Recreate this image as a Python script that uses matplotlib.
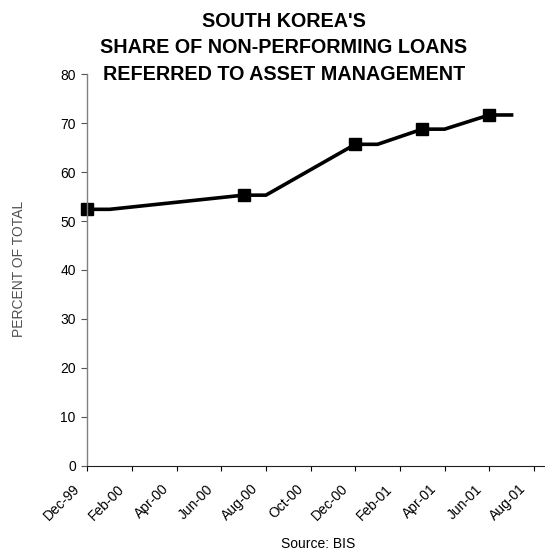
import matplotlib
matplotlib.use("Agg")
import matplotlib.pyplot as plt
import matplotlib.transforms as mtransforms

plt.rcParams['font.family'] = ['Liberation Sans', 'DejaVu Sans']

# month index: 0 = Dec-99
months = [0, 1, 7, 8, 12, 13, 15, 16, 18, 19]
share = [52.4, 52.4, 55.3, 55.3, 65.7, 65.7, 68.8, 68.8, 71.7, 71.7]
marker_idx = [0, 2, 4, 6, 8]
tick_labels = ["Dec-99", "Feb-00", "Apr-00", "Jun-00", "Aug-00", "Oct-00",
               "Dec-00", "Feb-01", "Apr-01", "Jun-01", "Aug-01"]
y_ticks = [0, 10, 20, 30, 40, 50, 60, 70, 80]
title_lines = ["SOUTH KOREA'S", "SHARE OF NON-PERFORMING LOANS",
               "REFERRED TO ASSET MANAGEMENT"]

W, H = 545, 554
fig = plt.figure(figsize=(W / 100, H / 100), dpi=100)
ax = fig.add_axes([87.3 / W, 1 - 465.5 / H, 1 - 87.3 / W, (465.5 - 74.4) / H])

ax.plot(months, share, color="black", linewidth=2.6, marker="s",
        markersize=9, markevery=marker_idx, markerfacecolor="black",
        markeredgecolor="black", solid_joinstyle="miter", clip_on=False)

ax.set_xlim(0, (W - 87.3) / 22.33)
ax.set_ylim(0, 80)
ax.set_yticks(y_ticks)
ax.set_xticks(list(range(0, 2 * len(tick_labels), 2)))
ax.set_xticklabels(tick_labels, rotation=45, ha="right", va="center",
                   rotation_mode="anchor", fontsize=10)
ax.tick_params(axis="y", labelsize=10, length=4, width=0.8, color="#555555", pad=4.3)
ax.tick_params(axis="x", length=3.6, width=0.8, color="black", pad=0)

offset = mtransforms.ScaledTranslation(-9.8 / 100, -16.3 / 100, fig.dpi_scale_trans)
for lbl in ax.get_xticklabels():
    lbl.set_transform(lbl.get_transform() + offset)

for s in ["top", "right"]:
    ax.spines[s].set_visible(False)
ax.spines["left"].set_color("#808080")
ax.spines["left"].set_linewidth(1.0)
ax.spines["bottom"].set_color("#202020")
ax.spines["bottom"].set_linewidth(0.8)

baselines = [26.7, 53.3, 80.0]
for line, yb in zip(title_lines, baselines):
    fig.text(284 / W, 1 - yb / H, line, ha="center", va="baseline",
             fontsize=14.2, fontweight="bold")

fig.text(19 / W, 1 - 269 / H, "PERCENT OF TOTAL", rotation=90, ha="center",
         va="center", fontsize=10, color="#505050")
fig.text(318 / W, 1 - 544 / H, "Source: BIS", ha="center", va="center", fontsize=10)

fig.savefig("out.png", dpi=100)
